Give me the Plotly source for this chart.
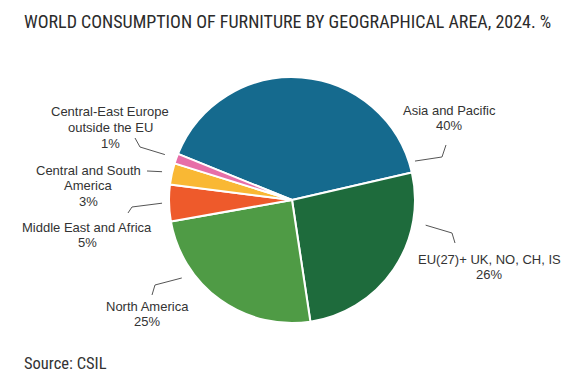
import math
import plotly.graph_objects as go

# ---- data ----
categories = ["Asia and Pacific", "EU(27)+ UK, NO, CH, IS", "North America",
              "Middle East and Africa", "Central and South America",
              "Central-East Europe outside the EU"]
label_lines = [["Asia and Pacific"], ["EU(27)+ UK, NO, CH, IS"], ["North America"],
               ["Middle East and Africa"], ["Central and South", "America"],
               ["Central-East Europe", "outside the EU"]]
shares = [40.3, 26.2, 24.6, 4.8, 2.8, 1.3]
colors = ["#156a8e", "#1e6b3c", "#4f9b45", "#ee5a2b", "#f9b834", "#e76fa8"]
title_text = "WORLD CONSUMPTION OF FURNITURE BY GEOGRAPHICAL AREA, 2024. %"
source_text = "Source: CSIL"

# ---- layout geometry (pixels) ----
W, H = 582, 382
CX, CY, R = 292, 200, 123
ROT = 292  # start angle of first slice, clockwise from 12 o'clock

label_spec = [
    dict(frac=0.968, gap=6, path=[(442, 157), (446, 145)], tx=449, ty=110),
    dict(frac=0.25, gap=13, path=[(452, 233), (455, 243)], tx=489, ty=259),
    dict(frac=0.715, gap=12, path=[(155, 285), (152, 295)], tx=147, ty=306),
    dict(frac=0.5, gap=7, path=[(132, 207), (128, 213)], tx=87, ty=227),
    dict(frac=0.5, gap=10, path=[(147, 171)], tx=88, ty=170),
    dict(frac=0.5, gap=12, path=[(140, 147), (135, 138)], tx=110, ty=112),
]
LINE_H = 15.5
LABEL_FONT = dict(family="Liberation Sans, Arial, sans-serif", size=13, color="#333333")
TITLE_FONT = dict(family="Roboto Condensed, Liberation Sans Narrow, Arial Narrow, Roboto, sans-serif",
                  size=18, color="#2b2b2b")


def px(x):
    return x / W


def py(y):
    return 1 - y / H


fig = go.Figure(go.Pie(
    labels=categories, values=shares, sort=False, direction="clockwise",
    rotation=ROT, textinfo="none", hoverinfo="label+percent",
    marker=dict(colors=colors, line=dict(color="white", width=2)),
    domain=dict(x=[px(CX - R), px(CX + R)], y=[py(CY + R), py(CY - R)]),
    showlegend=False,
))

total = sum(shares)
start = ROT
annotations = []
shapes = []
for i, v in enumerate(shares):
    span = v / total * 360.0
    spec = label_spec[i]
    ang = math.radians(start + spec["frac"] * span)
    rr = R + spec["gap"]
    x0 = CX + rr * math.sin(ang)
    y0 = CY - rr * math.cos(ang)
    pts = [(x0, y0)] + spec["path"]
    d = "M " + " L ".join(f"{px(a):.5f},{py(b):.5f}" for a, b in pts)
    shapes.append(dict(type="path", path=d, xref="paper", yref="paper",
                       line=dict(color="#555555", width=1)))
    lines = label_lines[i] + [f"{round(v)}%"]
    for k, t in enumerate(lines):
        annotations.append(dict(text=t, x=px(spec["tx"]), y=py(spec["ty"] + k * LINE_H),
                                xref="paper", yref="paper", xanchor="center", yanchor="middle",
                                showarrow=False, font=LABEL_FONT))
    start += span

annotations.append(dict(text=title_text, x=px(22), y=py(21), xref="paper", yref="paper",
                        xanchor="left", yanchor="middle", showarrow=False, font=TITLE_FONT))
annotations.append(dict(text=source_text, x=px(22), y=py(363), xref="paper", yref="paper",
                        xanchor="left", yanchor="middle", showarrow=False,
                        font=dict(TITLE_FONT, size=16.5, color="#333333")))

fig.update_layout(
    width=W, height=H, margin=dict(l=0, r=0, t=0, b=0),
    paper_bgcolor="white", plot_bgcolor="white",
    annotations=annotations, shapes=shapes,
)
fig.write_html("out.html", config={"displayModeBar": False},
               post_script="document.body.style.margin='0';document.body.style.overflow='hidden';")
